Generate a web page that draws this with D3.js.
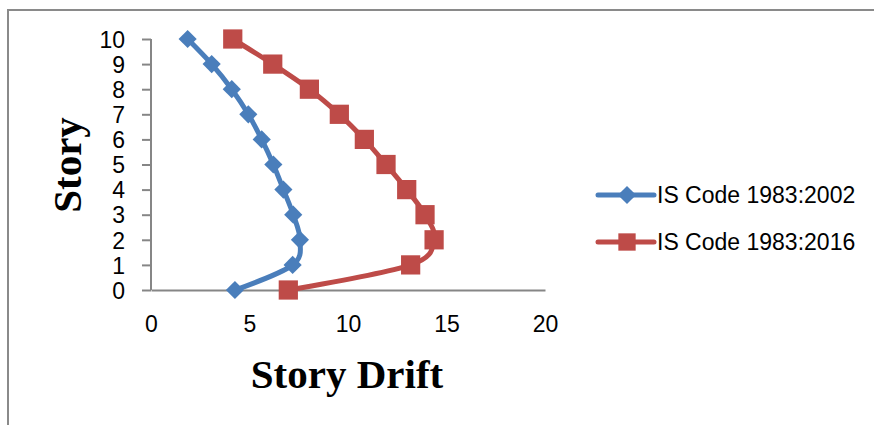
<!DOCTYPE html>
<html>
<head>
<meta charset="utf-8">
<script src="https://cdn.jsdelivr.net/npm/d3@7"></script>
<style>
  html, body { margin: 0; padding: 0; background: #fff; }
  svg { display: block; }
</style>
</head>
<body>
<svg id="chart" width="874" height="425"></svg>
<script>
// Story levels and drift values for the two code editions
const stories = [0, 1, 2, 3, 4, 5, 6, 7, 8, 9, 10];
const drift2002 = [4.26, 7.19, 7.56, 7.22, 6.72, 6.21, 5.62, 4.94, 4.10, 3.08, 1.86];
const drift2016 = [6.97, 13.18, 14.37, 13.91, 12.98, 11.93, 10.83, 9.56, 8.04, 6.18, 4.15];
const xTicks = [0, 5, 10, 15, 20];
const yTicks = [0, 1, 2, 3, 4, 5, 6, 7, 8, 9, 10];
const seriesNames = ["IS Code 1983:2002", "IS Code 1983:2016"];
const seriesColors = ["#4a7ebb", "#be4b48"];

const svg = d3.select("#chart");
const tickFont = "'Liberation Sans', Arial, sans-serif";
const titleFont = "'Liberation Serif', 'Times New Roman', serif";

// outer frame
svg.append("path")
  .attr("d", "M8,430 L8,10 L880,10")
  .attr("fill", "none")
  .attr("stroke", "#8a8a8a")
  .attr("stroke-width", 2);

const x = d3.scaleLinear().domain([0, 20]).range([151, 545]);
const y = d3.scaleLinear().domain([0, 10]).range([290, 39]);

// y axis with outside ticks
const yAxis = svg.append("g")
  .attr("transform", `translate(${x(0)},0)`)
  .call(d3.axisLeft(y).tickValues(yTicks).tickSize(9).tickPadding(17).tickFormat(d3.format("d")));
yAxis.select(".domain").attr("stroke", "#868686").attr("stroke-width", 2).attr("d", `M-0,${y(0)}V${y(10)}`);
yAxis.selectAll(".tick line").attr("stroke", "#868686").attr("stroke-width", 2);
yAxis.selectAll(".tick text")
  .attr("font-family", tickFont).attr("font-size", 23).attr("fill", "#000")
  .attr("dy", "0.36em");

// x axis without tick marks
const xAxis = svg.append("g")
  .attr("transform", `translate(0,${y(0)})`)
  .call(d3.axisBottom(x).tickValues(xTicks).tickSize(0).tickPadding(26).tickFormat(d3.format("d")));
xAxis.select(".domain").attr("stroke", "#868686").attr("stroke-width", 2);
xAxis.selectAll(".tick text")
  .attr("font-family", tickFont).attr("font-size", 23).attr("fill", "#000");

// axis titles
svg.append("text")
  .attr("x", 347).attr("y", 388)
  .attr("text-anchor", "middle")
  .attr("font-family", titleFont).attr("font-weight", "bold").attr("font-size", 41)
  .text("Story Drift");

svg.append("text")
  .attr("transform", `translate(81,${165}) rotate(-90)`)
  .attr("text-anchor", "middle")
  .attr("font-family", titleFont).attr("font-weight", "bold").attr("font-size", 41)
  .text("Story");

// series
const line = d3.line()
  .x(d => x(d.v))
  .y(d => y(d.s))
  .curve(d3.curveCatmullRom.alpha(0));

const diamond = d3.symbol().type(d3.symbolSquare).size(165);
const square = d3.symbol().type(d3.symbolSquare).size(370);

function drawSeries(values, color, isDiamond) {
  const pts = stories.map((s, i) => ({ s, v: values[i] }));
  svg.append("path")
    .datum(pts)
    .attr("d", line)
    .attr("fill", "none")
    .attr("stroke", color)
    .attr("stroke-width", 5)
    .attr("stroke-linejoin", "round");
  svg.append("g").selectAll("path")
    .data(pts)
    .join("path")
    .attr("d", isDiamond ? diamond : square)
    .attr("transform", d => `translate(${x(d.v)},${y(d.s)})` + (isDiamond ? " rotate(45)" : ""))
    .attr("fill", color);
}

drawSeries(drift2016, seriesColors[1], false);
drawSeries(drift2002, seriesColors[0], true);

// legend
const legendY = [195, 242];
seriesNames.forEach((name, i) => {
  const g = svg.append("g").attr("transform", `translate(0,${legendY[i]})`);
  g.append("line")
    .attr("x1", 598).attr("x2", 654).attr("y1", 0).attr("y2", 0)
    .attr("stroke", seriesColors[i]).attr("stroke-width", 5).attr("stroke-linecap", "round");
  g.append("path")
    .attr("d", i === 0 ? diamond : d3.symbol().type(d3.symbolSquare).size(300))
    .attr("transform", `translate(627,0)` + (i === 0 ? " rotate(45)" : ""))
    .attr("fill", seriesColors[i]);
  g.append("text")
    .attr("x", 657).attr("y", 0).attr("dy", "0.36em")
    .attr("font-family", tickFont).attr("font-size", 23).attr("fill", "#000")
    .text(name);
});
</script>
</body>
</html>
